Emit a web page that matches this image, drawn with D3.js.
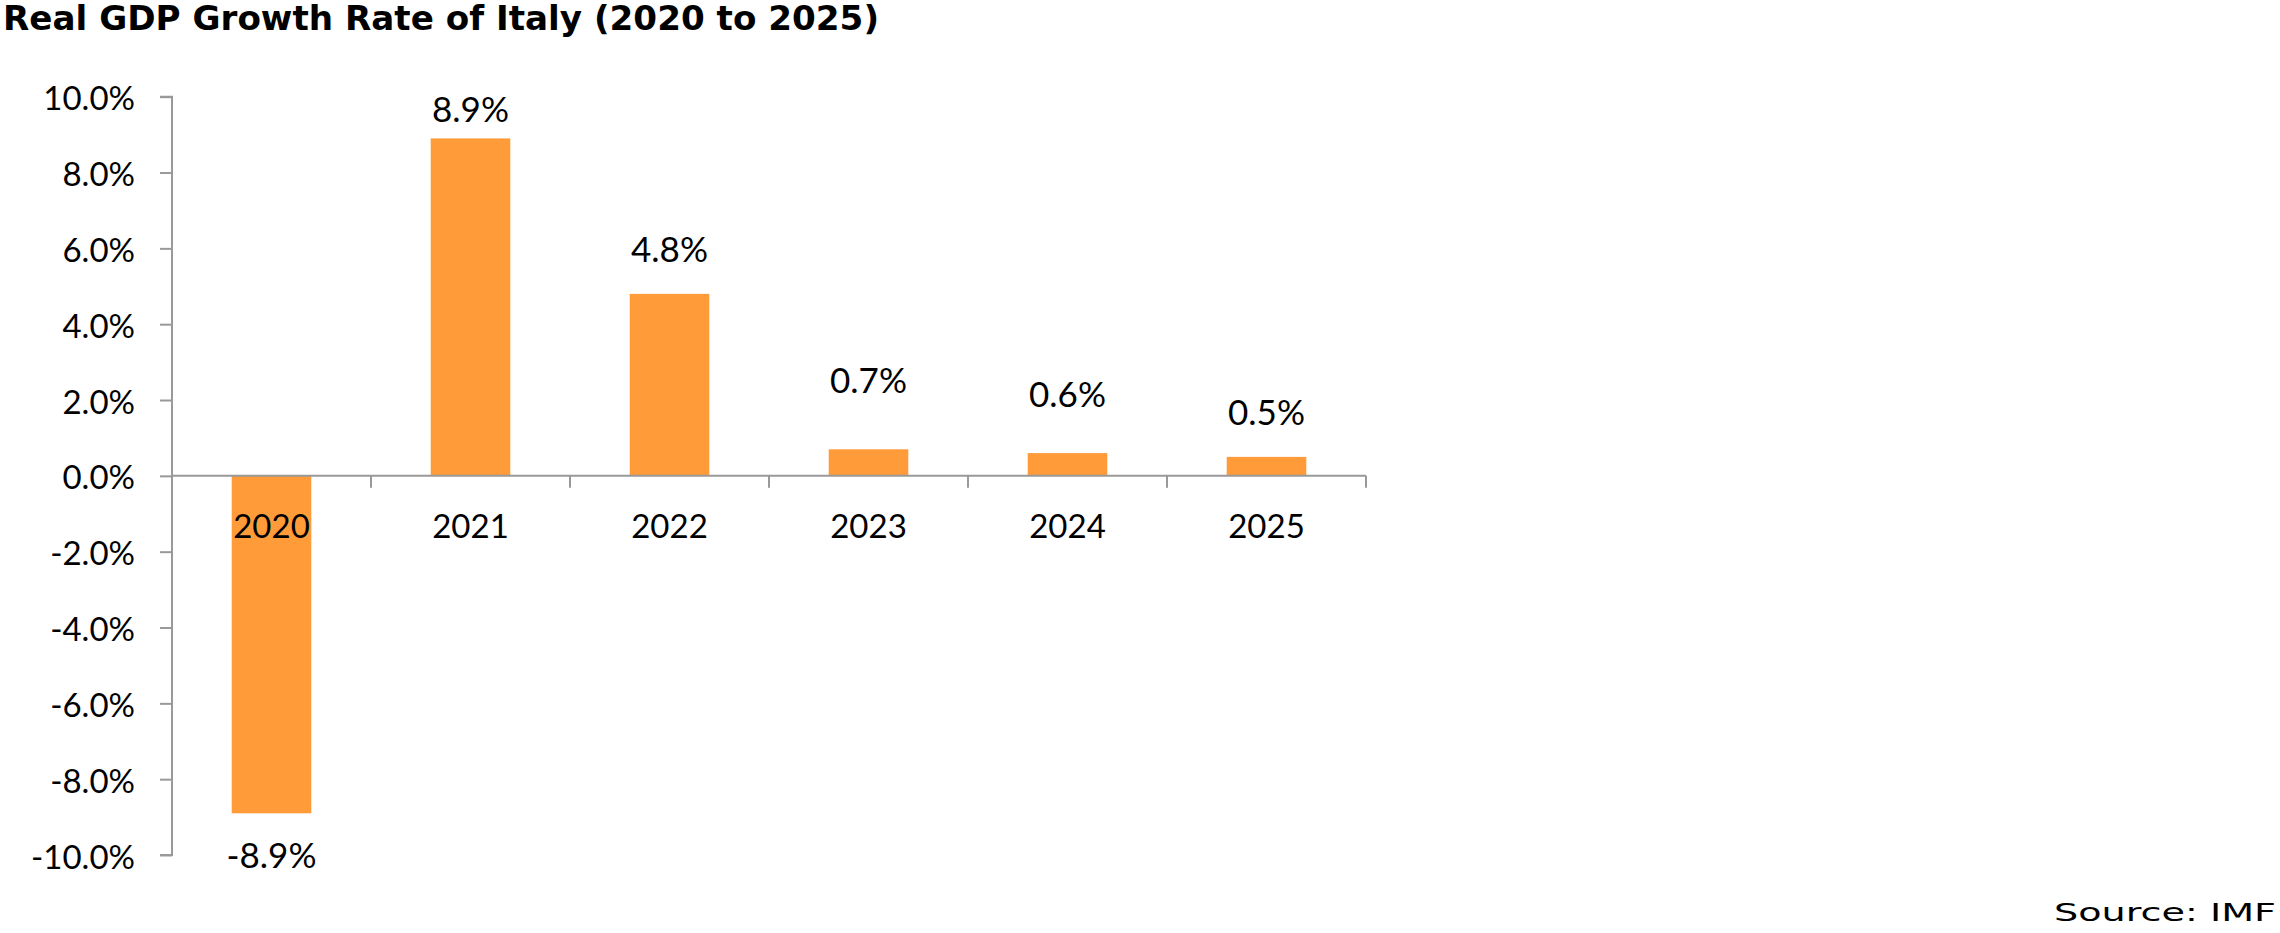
<!DOCTYPE html>
<html>
<head>
<meta charset="utf-8">
<script src="https://cdn.jsdelivr.net/npm/d3@7"></script>
<style>
  html, body { margin: 0; padding: 0; background: #fff; }
  svg { display: block; }
</style>
</head>
<body>
<svg id="chart" width="2280" height="933"></svg>
<script>
const categories = ["2020", "2021", "2022", "2023", "2024", "2025"];
const growthValues = [-8.9, 8.9, 4.8, 0.7, 0.6, 0.5];
const yTickValues = [-10, -8, -6, -4, -2, 0, 2, 4, 6, 8, 10];
const titleText = "Real GDP Growth Rate of Italy (2020 to 2025)";
const sourceText = "Source: IMF";

// layout: distance (px) between bar end and data-label baseline
const labelGaps = [55, 32, 32, 56, 46, 32];

const svg = d3.select("#chart");
const axisColor = "#999999";
const barColor = "#FF9B38";
const numFont = "Lato, 'Open Sans', sans-serif";

const x = d3.scaleBand().domain(categories).range([172, 1366]).paddingInner(0.6).paddingOuter(0.3);
const y = d3.scaleLinear().domain([-10, 10]).range([855, 96.7]);

// Title
svg.append("text")
  .attr("x", 3).attr("y", 30)
  .attr("font-family", "'DejaVu Sans', sans-serif")
  .attr("font-weight", "bold")
  .attr("font-size", 33)
  .attr("textLength", 876)
  .attr("lengthAdjust", "spacingAndGlyphs")
  .attr("fill", "#000")
  .text(titleText);

// Bars
svg.append("g").selectAll("rect")
  .data(growthValues)
  .join("rect")
  .attr("x", (d, i) => x(categories[i]))
  .attr("width", x.bandwidth())
  .attr("y", d => Math.min(y(d), y(0)))
  .attr("height", d => Math.abs(y(d) - y(0)))
  .attr("fill", barColor);

// Y axis
const yAxis = d3.axisLeft(y)
  .tickValues(yTickValues)
  .tickSize(12)
  .tickPadding(25)
  .tickFormat(d => d3.format(".1%")(d / 100).replace("−", "-"));
const yg = svg.append("g").attr("transform", `translate(${x.range()[0]},0)`).call(yAxis);
yg.select(".domain").attr("stroke", axisColor).attr("stroke-width", 2)
  .attr("d", `M-12,${y(10)}H0V${y(-10)}H-12`);
yg.selectAll(".tick line").attr("stroke", axisColor).attr("stroke-width", 2);
yg.selectAll(".tick text")
  .attr("font-family", numFont).attr("font-size", 33).attr("fill", "#000")
  .attr("dy", null).attr("dominant-baseline", "central");

// X axis line at zero
const x0 = x.range()[0], x1 = x.range()[1];
svg.append("line")
  .attr("x1", x0).attr("x2", x1)
  .attr("y1", y(0)).attr("y2", y(0))
  .attr("stroke", axisColor).attr("stroke-width", 2);

// X axis boundary ticks
const boundaries = d3.range(categories.length + 1).map(i => x0 + i * x.step());
svg.append("g").selectAll("line")
  .data(boundaries)
  .join("line")
  .attr("x1", d => d).attr("x2", d => d)
  .attr("y1", y(0)).attr("y2", y(0) + 12)
  .attr("stroke", axisColor).attr("stroke-width", 2);

// X labels
svg.append("g").selectAll("text")
  .data(categories)
  .join("text")
  .attr("x", d => x(d) + x.bandwidth() / 2)
  .attr("y", y(0) + 62)
  .attr("text-anchor", "middle")
  .attr("font-family", numFont).attr("font-size", 33).attr("fill", "#000")
  .text(d => d);

// Data labels
svg.append("g").selectAll("text")
  .data(growthValues)
  .join("text")
  .attr("x", (d, i) => x(categories[i]) + x.bandwidth() / 2)
  .attr("y", (d, i) => d >= 0 ? Math.max(y(d) - labelGaps[i], y(10) + 25) : y(d) + labelGaps[i])
  .attr("text-anchor", "middle")
  .attr("font-family", numFont).attr("font-size", 35).attr("fill", "#000")
  .text(d => d3.format(".1f")(d).replace("−", "-") + "%");

// Source
svg.append("text")
  .attr("x", 2054).attr("y", 921)
  .attr("font-family", "'DejaVu Sans', sans-serif")
  .attr("font-size", 25)
  .attr("textLength", 222)
  .attr("lengthAdjust", "spacingAndGlyphs")
  .attr("fill", "#000")
  .text(sourceText);
</script>
</body>
</html>
